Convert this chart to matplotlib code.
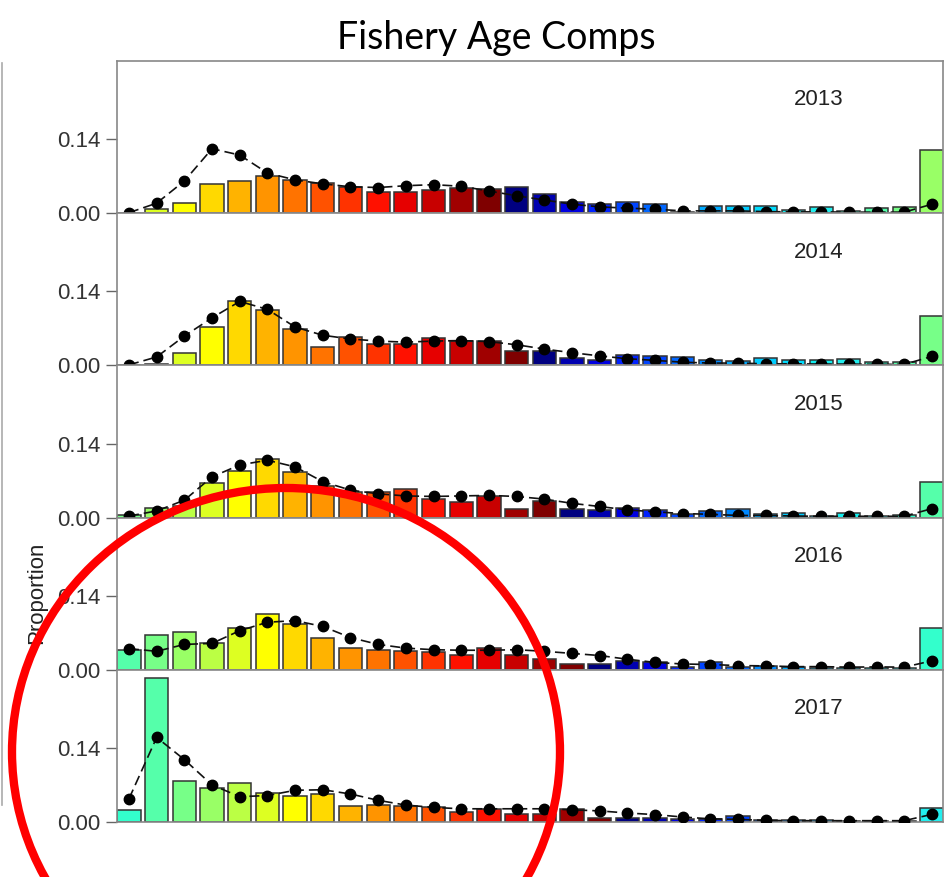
import numpy as np
import matplotlib.pyplot as plt
from matplotlib.patches import Ellipse
from matplotlib.lines import Line2D

plt.rcParams['font.family'] = ['Liberation Sans', 'DejaVu Sans']

years = [2013, 2014, 2015, 2016, 2017]
ages = np.arange(1, 31)

# observed (bars) and expected (points) proportions at age
obs_2013 = [0.0, 0.0076, 0.020, 0.055, 0.061, 0.071, 0.0625, 0.057, 0.049, 0.041,
            0.041, 0.044, 0.047, 0.045, 0.049, 0.037, 0.022, 0.017, 0.021, 0.018,
            0.003, 0.013, 0.0145, 0.0145, 0.006, 0.012, 0.0045, 0.0095, 0.012, 0.119]
exp_2013 = [0.001, 0.019, 0.061, 0.122, 0.110, 0.076, 0.063, 0.0555, 0.050, 0.0486,
            0.052, 0.054, 0.051, 0.042, 0.033, 0.025, 0.017, 0.012, 0.0095, 0.0076,
            0.0044, 0.0044, 0.0044, 0.003, 0.0025, 0.0025, 0.002, 0.002, 0.002, 0.017]
obs_2014 = [0.0, 0.003, 0.024, 0.0726, 0.121, 0.105, 0.069, 0.034, 0.054, 0.040,
            0.040, 0.051, 0.046, 0.046, 0.027, 0.027, 0.0145, 0.0095, 0.019, 0.017,
            0.016, 0.0095, 0.008, 0.0145, 0.011, 0.011, 0.0126, 0.006, 0.006, 0.093]
exp_2014 = [0.001, 0.016, 0.0555, 0.090, 0.121, 0.106, 0.0726, 0.057, 0.050, 0.046,
            0.044, 0.046, 0.047, 0.045, 0.039, 0.031, 0.024, 0.018, 0.0126, 0.0095,
            0.006, 0.0044, 0.0044, 0.003, 0.003, 0.0025, 0.0025, 0.002, 0.002, 0.017]
obs_2015 = [0.005, 0.018, 0.022, 0.066, 0.088, 0.110, 0.086, 0.059, 0.049, 0.048,
            0.055, 0.035, 0.030, 0.041, 0.016, 0.0316, 0.016, 0.014, 0.019, 0.014,
            0.0076, 0.0126, 0.0164, 0.0063, 0.008, 0.003, 0.008, 0.003, 0.005, 0.068]
exp_2015 = [0.003, 0.0126, 0.033, 0.077, 0.0997, 0.1085, 0.096, 0.068, 0.052, 0.045,
            0.041, 0.040, 0.041, 0.042, 0.040, 0.035, 0.027, 0.021, 0.0145, 0.011,
            0.0076, 0.0063, 0.004, 0.004, 0.003, 0.0025, 0.0025, 0.0025, 0.0025, 0.017]
obs_2016 = [0.037, 0.066, 0.072, 0.051, 0.079, 0.105, 0.087, 0.061, 0.042, 0.037,
            0.035, 0.033, 0.028, 0.042, 0.028, 0.020, 0.011, 0.011, 0.017, 0.0155,
            0.005, 0.014, 0.006, 0.008, 0.006, 0.004, 0.0035, 0.003, 0.003, 0.079]
exp_2016 = [0.040, 0.035, 0.048, 0.050, 0.074, 0.090, 0.093, 0.082, 0.061, 0.048,
            0.041, 0.038, 0.037, 0.037, 0.038, 0.035, 0.031, 0.027, 0.020, 0.014,
            0.011, 0.010, 0.008, 0.0074, 0.006, 0.006, 0.005, 0.0055, 0.005, 0.017]
obs_2017 = [0.023, 0.273, 0.077, 0.065, 0.073, 0.055, 0.049, 0.053, 0.0295, 0.0326,
            0.030, 0.028, 0.019, 0.025, 0.0157, 0.0157, 0.024, 0.0075, 0.0075, 0.0075,
            0.006, 0.005, 0.012, 0.0044, 0.003, 0.003, 0.0025, 0.0025, 0.0025, 0.026]
exp_2017 = [0.044, 0.160, 0.118, 0.070, 0.048, 0.050, 0.060, 0.061, 0.053, 0.041,
            0.032, 0.0276, 0.025, 0.025, 0.025, 0.025, 0.023, 0.021, 0.017, 0.014,
            0.0094, 0.006, 0.005, 0.003, 0.0025, 0.0025, 0.0025, 0.0025, 0.0025, 0.0145]

observed = [obs_2013, obs_2014, obs_2015, obs_2016, obs_2017]
expected = [exp_2013, exp_2014, exp_2015, exp_2016, exp_2017]

# colour by cohort, starting at the 2018 cohort and going back
cohort_cols = ['#22eeee', '#33ffcc', '#55ffaa', '#77ff88', '#99ff66', '#bbff44',
               '#ddff22', '#ffff00', '#ffd900', '#ffb300', '#ff9400', '#ff7300',
               '#ff5200', '#ff3300', '#ff1100', '#e60000', '#c80000', '#a00000',
               '#7f0000', '#000080', '#0000b0', '#0000e0', '#0022ff', '#0044ff',
               '#0066ff', '#0088ff', '#00aaff', '#00ccff', '#00ddff', '#11eeee']

W, H = 948, 877
fig = plt.figure(figsize=(W / 100, H / 100), dpi=100)

left, right = 117, 943
top, bottom = 61, 822
ph = (bottom - top) / len(years)
ymax = 0.14 * ph / 74

for j, yr in enumerate(years):
    y0 = top + j * ph
    ax = fig.add_axes([left / W, 1 - (y0 + ph) / H, (right - left) / W, ph / H])
    cols = [cohort_cols[(2018 - yr + i) % 30] for i in range(len(ages))]
    ax.bar(ages, observed[j], width=0.84, color=cols, edgecolor='#333333', linewidth=1.1, zorder=2)
    ax.plot(ages, expected[j], color='#111111', lw=1.2, ls=(0, (6, 3)), marker='o', ms=7.5,
            markerfacecolor='black', markeredgecolor='black', zorder=3)
    ax.set_xlim(0.567, 30.4)
    ax.set_ylim(0, ymax)
    ax.set_yticks([0, 0.14])
    ax.set_yticklabels(['0.00', '0.14'])
    ax.set_xticks([])
    ax.tick_params(axis='y', length=8, width=1, color='#666666', labelsize=16, labelcolor='#333333', pad=4)
    for s in ax.spines.values():
        s.set_color('#888888')
        s.set_linewidth(1.2)
    ax.text(0.85, 0.745, str(yr), transform=ax.transAxes, ha='center', va='center', fontsize=16, color='#222222')

fig.text(496 / W, 1 - 38 / H, 'Fishery Age Comps', ha='center', va='center', fontsize=27, family=['Lato', 'DejaVu Sans'])
fig.text(37 / W, 1 - 593 / H, 'Proportion', rotation=90, ha='center', va='center', fontsize=16, color='#222222')

fig.add_artist(Line2D([2 / W, 2 / W], [1 - 63 / H, 1 - 805 / H], color='#aaaaaa', lw=1.2))

circ = Ellipse((286 / W, 1 - 752 / H), width=548 / W, height=528 / H, transform=fig.transFigure,
               fill=False, edgecolor='#ff0000', lw=6, zorder=10)
fig.add_artist(circ)

fig.savefig('out.png', dpi=100)
